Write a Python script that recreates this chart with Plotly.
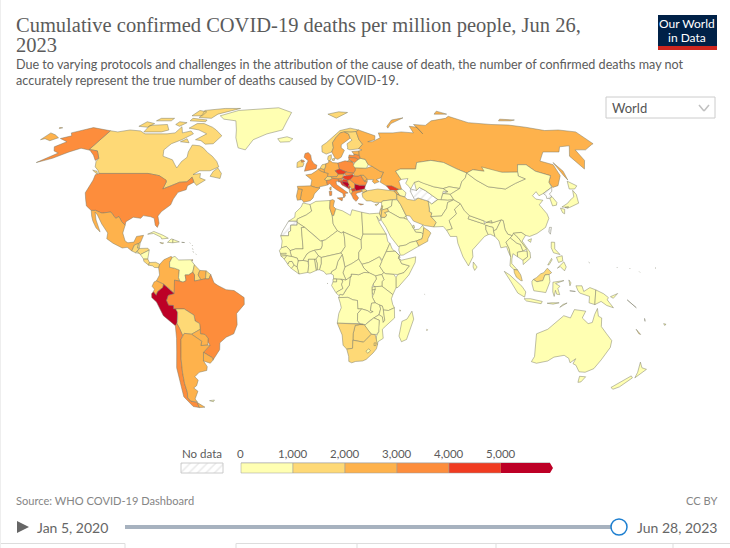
import numpy as np
import plotly.graph_objects as go

# country outlines as (lon, lat) rings, traced by eye, one entry per country
OUTLINES = {
    "CAN": [[(-141,69.6),(-135,69),(-128,70),(-120,69.5),(-115,68),(-108,68),(-100,68),(-95,68.5),(-94,71.8),(-90,68.5),(-85,69.5),(-82,68),(-87,65),(-92,63),(-94,60),(-92,57),(-85,55.3),(-82,53),(-80,51.5),(-79,54.5),(-77,56.5),(-78,59),(-78,62.4),(-73,62),(-70,61),(-66,58.8),(-62,57),(-58,54.5),(-55.7,52),(-60,50.2),(-66,50.2),(-69,48.5),(-65,49),(-64.5,47),(-61,46),(-65,43.6),(-67,45),(-69,47.3),(-71,45.2),(-75,45),(-79,43.4),(-83,42),(-82.5,45.5),(-88,48),(-95,49),(-110,49),(-123,49),(-125,50.5),(-128,52),(-130,54.5),(-130,56),(-135,59.5),(-141,60.2)],
            [(-80,73.5),(-72,71.5),(-68,70),(-62,67),(-65,63),(-70,62.8),(-74,64.5),(-78,65),(-73,68),(-80,70),(-88,71),(-85,73.5)],
            [(-117,69),(-105,69),(-101,70),(-106,73),(-118,72.5)],
            [(-88,77),(-78,76.5),(-76,79),(-65,82),(-62,83),(-75,83),(-90,81.5),(-88,79)],
            [(-125,72),(-118,71.5),(-116,73.5),(-123,74.5)],
            [(-92,75),(-80,74.5),(-80,75.5),(-92,76.5)],
            [(-59,47.7),(-53,46.7),(-53,49),(-56,51.5),(-58,50)],
            [(-87,64),(-81,63.5),(-84,65.5)],
            [(-128,50.5),(-123.5,48.5),(-125,50)],
            [(-117,75),(-106,75),(-106,76.5),(-116,76.5)],
            [(-95,78),(-87,78),(-87,80.5),(-94,81.5)],
            [(-100,73),(-96,72),(-93,74),(-99,74.5)]],
    "USA": [[(-123,49),(-110,49),(-95,49),(-88,48),(-83,46),(-82.5,45),(-83,42),(-79,43.4),(-75,45),(-71,45.2),(-69,47.3),(-67,45),(-70,43.5),(-70,41.7),(-74,40.5),(-75.5,37.5),(-76,35),(-80,32),(-81.3,30),(-80,26.8),(-80.5,25),(-81.8,26),(-83,29),(-85,29.7),(-89,30.2),(-90,29),(-94,29.5),(-97.3,27.5),(-97.3,26),(-99.5,27.5),(-101.5,29.8),(-103,29),(-106.5,31.8),(-111,31.3),(-114.8,32.5),(-117.1,32.5),(-120.5,34.5),(-122.5,37.5),(-124.3,40.3),(-124,46),(-124.7,48.4)],
            [(-141,69.6),(-141,60.2),(-135,59.5),(-130,56),(-131,55),(-135,57.5),(-140,59.8),(-147,60.8),(-152,59),(-158,56),(-165,54),(-158,58.5),(-162,59.5),(-165,61.5),(-161,64),(-168,65.6),(-163,67),(-166,68.5),(-156,71.3)]],
    "GRL": [[(-73,78),(-68,76),(-58,75),(-54,70),(-52,66),(-48,61),(-43,60),(-40,65),(-32,68),(-22,70),(-20,75),(-18,80),(-30,83.5),(-45,82.5),(-62,81.5)]],
    "MEX": [[(-117.1,32.5),(-114.8,32.5),(-111,31.3),(-106.5,31.8),(-103,29),(-101.5,29.8),(-99.5,27.5),(-97.3,26),(-97.8,22.5),(-96,19),(-94.5,18.2),(-91.5,18.5),(-90.5,21),(-87,21.5),(-88,18.5),(-89,17.9),(-91,17.2),(-92,14.6),(-94.5,16.2),(-97,15.9),(-102,18),(-105.5,20),(-105.5,22.5),(-109.5,26.5),(-113,30.5),(-114.7,31.7),(-113,28.3),(-110,24),(-109.5,23),(-112,24.8),(-114.5,27.8),(-115.8,30)]],
    "GTM": [[(-92,14.6),(-91,17.2),(-89,17.9),(-89.2,15.9),(-88.2,15.7),(-89.3,14.4),(-90,13.8)]],
    "BLZ": [[(-89,17.9),(-88.2,18.4),(-88.3,16),(-89.2,15.9)]],
    "SLV": [[(-90,13.8),(-89.3,14.4),(-87.8,13.5)]],
    "HND": [[(-89.3,14.4),(-88.2,15.7),(-84,15.8),(-83.2,15),(-87.5,13)]],
    "NIC": [[(-87.5,13),(-83.2,15),(-83.6,11),(-85.7,11)]],
    "CRI": [[(-85.7,11),(-83.6,11),(-82.6,9.5),(-83,8.3),(-85.5,10)]],
    "PAN": [[(-83,8.3),(-82.6,9.5),(-79.5,9.6),(-77.4,8.7),(-77.9,7.2),(-80,7.3),(-81,8)]],
    "CUB": [[(-85,22),(-82,23.2),(-77,21.5),(-74.2,20.2),(-77.5,19.9),(-78,20.7),(-82,22.3)]],
    "HTI": [[(-74.4,18.4),(-72.7,19.9),(-71.7,19.7),(-71.7,18.2)]],
    "DOM": [[(-71.7,19.7),(-68.4,18.6),(-71.7,18.2)]],
    "JAM": [[(-78.3,18.3),(-76.3,18.1),(-77,17.8)]],
    "PRI": [[(-67.2,18.4),(-65.7,18.3),(-66,18)]],
    "TTO": [[(-61.7,10.7),(-61,10.8),(-61.1,10.1)]],
    "LCA": [[(-61,14.3),(-60.8,14),(-61.1,14)],[(-61.4,15.6),(-61.2,15.3),(-61.5,15.3)],[(-61.8,17.2),(-61.6,17),(-61.9,17)],[(-63,18.2),(-62.8,18),(-63.1,18)],[(-59.6,13.3),(-59.4,13.1),(-59.7,13.1)]],
    "COL": [[(-77.4,8.7),(-75.5,10.7),(-72,12.2),(-71.3,11.8),(-72.5,9.5),(-72.4,7.4),(-70,7),(-67.5,6.2),(-67.8,2.8),(-67,1.2),(-69.8,1.7),(-69.6,-0.5),(-70,-4.2),(-72,-2.4),(-75.2,-0.1),(-78.8,1.4),(-77.3,4),(-77.9,7.2)]],
    "VEN": [[(-71.3,11.8),(-70,12.2),(-68,10.6),(-64,10.5),(-62,10.7),(-60,8.5),(-60.7,5.2),(-62.8,4),(-64.5,4),(-64,1.5),(-65.5,0.8),(-67,1.2),(-67.8,2.8),(-67.5,6.2),(-70,7),(-72.4,7.4),(-72.5,9.5)]],
    "GUY": [[(-60,8.5),(-57.2,6),(-58,4),(-56.5,1.9),(-59.8,1.3),(-59.8,4),(-60.7,5.2)]],
    "SUR": [[(-57.2,6),(-54,5.8),(-54.3,2.3),(-56.5,1.9),(-58,4)]],
    "GUF": [[(-54,5.8),(-51.7,4.2),(-52.6,2.2),(-54.3,2.3)]],
    "BRA": [[(-51.7,4.2),(-50,0.5),(-48,-0.7),(-44,-2.5),(-40,-2.9),(-37,-4.8),(-35,-6),(-35,-9),(-39,-13),(-39,-18),(-41,-22),(-45,-23.5),(-48.5,-26),(-49,-29),(-53.4,-33.7),(-53.2,-32.7),(-57.6,-30.2),(-53.7,-27),(-54.6,-25.6),(-54.3,-24),(-55.8,-22.3),(-58,-22),(-57.9,-20),(-58,-17.5),(-60.2,-16.3),(-60.5,-13.8),(-65.3,-11),(-69.5,-11),(-70.6,-11),(-70.6,-9.5),(-73,-9.4),(-74,-7.3),(-73,-5),(-70,-4.2),(-69.6,-0.5),(-69.8,1.7),(-67,1.2),(-65.5,0.8),(-64,1.5),(-64.5,4),(-62.8,4),(-60.7,5.2),(-59.8,4),(-59.8,1.3),(-56.5,1.9),(-54.3,2.3),(-52.6,2.2)]],
    "ECU": [[(-80,0.9),(-78.8,1.4),(-75.2,-0.1),(-75.6,-1.5),(-78.3,-3.4),(-79,-5),(-80.4,-3.4),(-79.8,-2.3),(-81,-1)]],
    "PER": [[(-75.2,-0.1),(-72,-2.4),(-70,-4.2),(-73,-5),(-74,-7.3),(-73,-9.4),(-70.6,-9.5),(-70.6,-11),(-69.5,-11),(-68.7,-12.5),(-69,-16.2),(-69.5,-17.5),(-70.4,-18.4),(-76,-14),(-79,-8),(-81.3,-6),(-81.3,-4.3),(-80.4,-3.4),(-79,-5),(-78.3,-3.4),(-75.6,-1.5)]],
    "BOL": [[(-69.5,-11),(-65.3,-11),(-60.5,-13.8),(-60.2,-16.3),(-58,-17.5),(-57.9,-20),(-62.6,-22.2),(-66.2,-21.8),(-67.2,-22.8),(-68.4,-19.5),(-69.5,-17.5),(-69,-16.2),(-68.7,-12.5)]],
    "PRY": [[(-57.9,-20),(-58,-22),(-55.8,-22.3),(-54.3,-24),(-54.6,-25.6),(-54.8,-27),(-58.5,-27.2),(-57.7,-25.3),(-62.6,-22.2)]],
    "CHL": [[(-70.4,-18.4),(-69.5,-17.5),(-68.4,-19.5),(-67.2,-22.8),(-68.3,-24.5),(-70,-33),(-71,-39),(-71.8,-44),(-72,-48),(-73,-50.5),(-72,-52),(-68.6,-52.6),(-68.6,-55),(-72,-54.5),(-75,-50),(-74,-43),(-73.5,-37),(-71.5,-30),(-70.5,-24)]],
    "ARG": [[(-66.2,-21.8),(-62.6,-22.2),(-57.7,-25.3),(-58.5,-27.2),(-54.8,-27),(-53.7,-27),(-57.6,-30.2),(-58.4,-34),(-57,-36.5),(-57.7,-38.2),(-62,-39),(-65,-41),(-63.7,-42.5),(-65.5,-45),(-67.5,-46),(-65.8,-47.5),(-69,-51),(-68.4,-52.4),(-72,-52),(-73,-50.5),(-72,-48),(-71.8,-44),(-71,-39),(-70,-33),(-68.3,-24.5),(-67.2,-22.8)],
            [(-68.6,-52.7),(-65.2,-54.8),(-68.6,-55)]],
    "URY": [[(-57.6,-30.2),(-53.2,-32.7),(-53.4,-33.7),(-55,-35),(-58.4,-34)]],
    "FLK": [[(-61,-51.8),(-58,-51.5),(-59,-52.3)]],
    "MAR": [[(-5.9,35.8),(-2.1,35.1),(-1.2,32.2),(-4,30.5),(-8.7,28.7),(-8.7,27.7),(-13.2,27.7),(-10,29.5),(-9.8,31.5),(-6.8,34)]],
    "ESH": [[(-13.2,27.7),(-8.7,27.7),(-8.7,26),(-12,26),(-12,23.4),(-13,23),(-13,21.3),(-17,21.3),(-16,23.5),(-14.5,26)]],
    "DZA": [[(-2.1,35.1),(1,36.5),(8.6,36.9),(8.3,33.5),(9.5,30.2),(9.9,26.5),(12,23.5),(5.8,19.5),(3.2,19),(1.2,20.7),(-4.8,25),(-8.7,27.2),(-8.7,28.7),(-4,30.5),(-1.2,32.2)]],
    "TUN": [[(8.6,36.9),(10,37.3),(11,36.8),(10.2,34.3),(11.5,33.2),(10.3,30.2),(9.5,30.2),(8.3,33.5)]],
    "LBY": [[(11.5,33.2),(15,32.3),(19,30.3),(20,32.8),(25,31.7),(25,22),(24,19.5),(15,23),(14,22.5),(12,23.5),(9.9,26.5),(9.5,30.2),(10.3,30.2)]],
    "EGY": [[(25,31.7),(29,31),(32.5,31.2),(34.2,31.3),(34.9,29.5),(34.2,27.8),(32.6,29.9),(33.8,27),(35.7,23.9),(36.9,22),(25,22)]],
    "MRT": [[(-17,21.3),(-13,21.3),(-13,23),(-12,23.4),(-12,26),(-8.7,26),(-8.7,27.2),(-4.8,25),(-6.5,24.9),(-5.5,15.5),(-9.3,15.5),(-12.2,14.7),(-12.2,15),(-14,16.6),(-16.5,16),(-16.2,19)]],
    "MLI": [[(-4.8,25),(1.2,20.7),(3.2,19),(4.2,19),(4.2,16.8),(3.5,15.4),(0.2,14.9),(-2,14.2),(-3.5,13.3),(-5.5,10.4),(-8,10.2),(-8.4,11.4),(-11.4,12.2),(-12.2,14.7),(-9.3,15.5),(-5.5,15.5),(-6.5,24.9)]],
    "NER": [[(4.2,19),(5.8,19.5),(12,23.5),(14,22.5),(15,23),(15.5,20.8),(15.8,16.5),(13.6,13.7),(9,12.8),(3.6,11.7),(2.2,12.5),(0.2,14.9),(3.5,15.4),(4.2,16.8)]],
    "TCD": [[(15,23),(24,19.5),(24,15.7),(22.6,14),(22.5,11),(19,9),(15.5,7.5),(14.5,12.2),(13.6,13.7),(15.8,16.5),(15.5,20.8)]],
    "SDN": [[(24,19.5),(25,22),(36.9,22),(37.5,18.7),(38.5,18),(36.5,14.3),(34.3,10.6),(32.9,12),(27.5,9.5),(24,8.7),(22.5,11),(22.6,14),(24,15.7)]],
    "SSD": [[(24,8.7),(27.5,9.5),(32.9,12),(34.1,10),(33,7.8),(35,5),(33.9,4.2),(30.8,3.6),(27.5,5),(25,7)]],
    "ERI": [[(36.5,14.3),(38.5,18),(39.5,15.5),(43,12.6),(41,14.5),(37.5,14.3)]],
    "ETH": [[(36.5,14.3),(37.5,14.3),(41,14.5),(43,12.6),(42.4,11.5),(43,11),(44,9),(47.9,8),(45,5),(42,4.2),(40,4.2),(36,4.5),(35,5),(33,7.8),(34.1,10),(34.3,10.6)]],
    "DJI": [[(43,12.6),(43.3,11.5),(42.4,11.2)]],
    "SOM": [[(43,11),(44,10.5),(51.2,12),(50.8,9.5),(47.5,4),(42,-1.5),(41,-1.7),(41,2.8),(42,4.2),(45,5),(47.9,8),(44,9)]],
    "KEN": [[(33.9,4.2),(35,5),(36,4.5),(40,4.2),(41,2.8),(41,-1.7),(39.5,-4.7),(37.7,-3.5),(34,-1),(34,1),(35,2)]],
    "UGA": [[(30.8,3.6),(33.9,4.2),(35,2),(34,1),(34,-1),(30,-1.2),(29.6,0),(31.2,2.2)]],
    "TZA": [[(34,-1),(37.7,-3.5),(39.5,-4.7),(38.8,-6.5),(39.5,-9),(40.4,-10.5),(37.5,-11.7),(34.9,-11.5),(34.3,-9.7),(31,-8.6),(29.3,-6),(29.6,-4.5),(30.6,-2.4),(30,-1.2)]],
    "RWA": [[(29,-1.4),(30.5,-1.1),(30.6,-2.4),(29,-2.7)]],
    "BDI": [[(29,-2.7),(30.5,-2.4),(30,-4.5),(29.3,-4.4)]],
    "COD": [[(12.3,-6),(13.1,-4.6),(14.5,-4.8),(16.2,-2.2),(17.7,-0.5),(18,2.5),(18.6,3.5),(18.6,4.4),(22.4,4.1),(25,5.1),(27.5,5),(30.8,3.6),(31.2,2.2),(29.6,0),(29,-1.4),(29,-2.7),(29.3,-4.4),(29.3,-6),(30.7,-8.3),(28.9,-8.5),(28.4,-11.7),(29.8,-12.2),(28.5,-12.7),(27,-11.8),(24,-11),(22,-11),(21.8,-7.3),(19.5,-7),(17,-5.9)]],
    "AGO": [[(12.3,-6),(17,-5.9),(19.5,-7),(21.8,-7.3),(22,-11),(24,-11),(22,-13),(22,-16.2),(23.3,-17.5),(18.5,-17.4),(11.8,-17.3),(12.5,-13),(13.7,-10.5),(13.2,-8.5)]],
    "ZMB": [[(22,-13),(24,-11),(27,-11.8),(28.5,-12.7),(29.8,-12.2),(28.4,-11.7),(28.9,-8.5),(30.7,-8.3),(33,-9.3),(33.5,-11),(32.8,-13.5),(30.2,-15),(28.5,-16),(26,-18),(23.3,-17.5),(22,-16.2)]],
    "MWI": [[(33,-9.4),(34.3,-9.7),(34.9,-11.5),(35.8,-16),(35,-17),(34.5,-14.5),(32.8,-13.6),(33.5,-11)]],
    "MOZ": [[(34.9,-11.5),(37.5,-11.7),(40.4,-10.5),(40.7,-15),(36.5,-18.5),(34.8,-20),(35.5,-24),(32.9,-25.5),(32.8,-26.8),(31.9,-26),(32,-23),(33,-21),(32.8,-19),(33,-16),(30.2,-15),(32.8,-13.6),(34.5,-14.5),(35,-17),(35.8,-16)]],
    "ZWE": [[(26,-18),(28.5,-16),(30.2,-15),(33,-16),(32.8,-19),(33,-21),(32,-22.3),(29.5,-22.2),(27.5,-20.5),(25.5,-18)]],
    "BWA": [[(20.9,-18.3),(23.3,-17.9),(25.5,-18),(27.5,-20.5),(29.3,-22.2),(26.8,-24.5),(25.5,-25.7),(23,-25.3),(20,-24.8),(20,-22)]],
    "NAM": [[(11.8,-17.3),(18.5,-17.4),(23.3,-17.5),(25,-17.8),(23.3,-17.9),(20.9,-18.3),(20,-22),(20,-28.4),(17,-28.8),(15,-27),(14.4,-22.5)]],
    "ZAF": [[(17,-28.8),(20,-28.4),(20,-24.8),(23,-25.3),(25.5,-25.7),(26.8,-24.5),(29.3,-22.2),(31.3,-22.4),(32,-25),(32.8,-26.8),(32.4,-28.6),(30.8,-30.5),(27.5,-33.3),(25.7,-34),(22,-34.2),(20,-34.8),(18.4,-34.2),(18.2,-32)]],
    "LSO": [[(27,-29.6),(28.5,-28.6),(29.4,-29.5),(28,-30.6)]],
    "SWZ": [[(31,-26),(32,-26),(32,-27.2),(31,-27.2)]],
    "GAB": [[(8.8,-0.7),(9.5,1),(11.3,1),(11.3,2.3),(13.3,2.2),(14.5,1.4),(13.8,-0.2),(14.5,-2),(11.5,-3.5),(11,-3.9)]],
    "COG": [[(11,-3.9),(11.5,-3.5),(14.5,-2),(13.8,-0.2),(14.5,1.4),(13.3,2.2),(16,1.8),(18.6,3.5),(18,2.5),(17.7,-0.5),(16.2,-2.2),(14.5,-4.8),(13.1,-4.6),(12.3,-5)]],
    "CAF": [[(14.5,5),(15.5,7.5),(19,9),(22.5,11),(24,8.7),(25,7),(27.5,5),(25,5.1),(22.4,4.1),(18.6,4.4),(18.6,3.5),(16,1.8),(15,3.8)]],
    "CMR": [[(8.5,4.6),(9.7,3.9),(9.8,2.3),(11.3,2.3),(13.3,2.2),(16,1.8),(15,3.8),(14.5,5),(15.5,7.5),(14.5,12.2),(14.2,13),(12,10),(11,6.7),(8.8,5.5)]],
    "GNQ": [[(9.5,2.2),(11.3,2.2),(11.3,1),(9.5,1)]],
    "NGA": [[(2.7,6.3),(5,5.5),(6,4.3),(8.5,4.6),(8.8,5.5),(11,6.7),(12,10),(14.2,13),(13.6,13.7),(9,12.8),(3.6,11.7),(3.6,9)]],
    "BEN": [[(1.6,6.2),(2.7,6.3),(3.6,9),(3.6,11.7),(2.2,12.5),(0.9,11),(1.6,9)]],
    "TGO": [[(0.2,11),(0.9,11),(1.6,9),(1.6,6.2),(1.1,6),(0.6,8)]],
    "GHA": [[(-3.2,5.1),(-2,4.8),(1.1,6),(0.6,8),(0.2,11),(-2.8,11),(-2.7,8)]],
    "BFA": [[(-5.5,10.4),(-3.5,13.3),(-2,14.2),(0.2,14.9),(2.2,12.5),(0.9,11),(-2.8,11),(-3,9.9)]],
    "CIV": [[(-8.5,7.6),(-7.5,4.4),(-3.2,5.1),(-2.7,8),(-3,9.9),(-5.5,10.4),(-8,10.2)]],
    "LBR": [[(-11.4,6.9),(-7.5,4.4),(-8.5,7.6),(-10,8.4)]],
    "SLE": [[(-13.2,8.5),(-11.4,6.9),(-10,8.4),(-11,10),(-12.5,9.9)]],
    "GIN": [[(-15,11),(-13.2,8.8),(-12.5,9.9),(-11,10),(-10,8.4),(-8.5,7.6),(-8,10.2),(-8.4,11.4),(-11.4,12.2),(-13.7,12.6)]],
    "GNB": [[(-16.7,12.4),(-13.7,12.6),(-15,11)]],
    "SEN": [[(-17.5,14.7),(-16.5,16),(-14,16.6),(-12.2,15),(-11.4,12.2),(-13.7,12.6),(-16.7,12.4),(-16.8,13.2)]],
    "GMB": [[(-16.8,13.5),(-14,13.6),(-14,13.2),(-16.8,13.1)]],
    "MDG": [[(49.3,-12),(50.4,-15.5),(47.5,-24.5),(45,-25.5),(43.5,-23),(44.5,-16.5),(47,-15.5)]],
    "COM": [[(43.2,-11.4),(43.6,-11.9),(43.2,-12)]],
    "MUS": [[(57.4,-20),(57.8,-20.2),(57.5,-20.6)]],
    "SYC": [[(55.4,-4.6),(55.6,-4.7),(55.4,-4.9)]],
    "STP": [[(6.5,0.4),(6.8,0.2),(6.5,0)]],
    "ISL": [[(-24,65.5),(-18,66.5),(-14,65.5),(-16,64),(-22,63.8)]],
    "IRL": [[(-10,54),(-7.5,55.3),(-6,53.5),(-6.5,52.2),(-10,51.7)]],
    "GBR": [[(-5.5,50),(1.3,51.2),(1.7,52.8),(0,53.5),(-1.5,55.2),(-2,57.5),(-3.5,58.7),(-5.5,58.3),(-6,56.5),(-3.5,54.8),(-4.5,53.3),(-5,51.8)],
            [(-7.5,55.2),(-6,55),(-5.6,54.4),(-7.5,54.2)]],
    "FRA": [[(-1.8,43.4),(-1.2,46),(-4.7,48.3),(-1.5,48.7),(1.5,50.2),(2.5,51),(4.2,50),(6,49.5),(8.2,49),(7.6,47.6),(6,46.3),(7,45.8),(7.5,43.8),(5,43.3),(3,43),(3.2,42.4),(0.7,42.7)],
            [(8.6,42.5),(9.5,43),(9.3,41.5),(8.8,41.6)]],
    "ESP": [[(-9.2,43.2),(-1.8,43.4),(0.7,42.7),(3.2,42.4),(0.2,39.8),(-0.5,38),(-2,36.8),(-5.5,36.1),(-6.4,37.2),(-7.4,37.2),(-7,39.5),(-6.5,41.8),(-8.8,42)]],
    "PRT": [[(-8.8,42),(-6.5,41.8),(-7,39.5),(-7.4,37.2),(-8.9,37),(-9.5,38.8)]],
    "BEL": [[(2.5,51),(4.3,51.4),(6,50.7),(6,49.5),(4.2,50)]],
    "NLD": [[(3.5,51.4),(4.8,53),(7,53.4),(6.8,52),(6,50.8),(4.3,51.4)]],
    "DEU": [[(6,50.7),(6.8,52),(7,53.4),(8.7,54),(8.8,54.9),(10,54.7),(11,54),(14.2,53.8),(14.8,51),(12.2,50.2),(13.8,48.7),(13,47.5),(7.6,47.6),(8.2,49),(6,49.5)]],
    "DNK": [[(8.2,55.5),(8.6,57),(10.6,57.7),(10.5,56),(9.6,54.9),(8.7,54.9)],
            [(11,55.7),(12.5,56),(12.2,55),(11,55)]],
    "CHE": [[(6,46.3),(7.6,47.6),(9.6,47.5),(10.4,46.8),(9,46),(7,45.8)]],
    "AUT": [[(9.6,47.5),(13,47.5),(13.8,48.7),(17,48.8),(16.2,46.9),(13.7,46.5),(10.4,46.8)]],
    "ITA": [[(7,45.8),(9,46),(10.4,46.8),(13.7,46.5),(13.8,45.6),(12.3,45.3),(12.5,44),(16,41.8),(18.5,40.2),(16.8,40),(17,39),(16,38),(15.7,40),(12.3,41.7),(10.2,43),(8.8,44.4),(7.5,43.8)],
            [(12.5,38),(15.5,38.2),(15,36.7)],
            [(8.3,41),(9.7,41),(9.6,39.2),(8.5,39)]],
    "POL": [[(14.2,53.8),(18.5,54.8),(23,54.3),(24,52),(24,50.5),(22.7,49.1),(19,49.5),(14.8,51)]],
    "CZE": [[(12.2,50.2),(14.8,51),(18.8,49.6),(17,48.8),(13.8,48.7)]],
    "SVK": [[(17,48.8),(18.8,49.6),(22.5,49.1),(22,48.4),(18.8,47.9)]],
    "HUN": [[(16.2,46.9),(17,48),(18.8,47.9),(22,48.4),(22.7,47.9),(20.3,46.1),(18.8,45.9)]],
    "SVN": [[(13.7,46.5),(16.2,46.9),(15.5,45.5),(13.8,45.5)]],
    "HRV": [[(13.6,45.1),(13.8,45.5),(15.5,45.5),(16.6,46.5),(18.8,45.9),(19,45),(16,45.2),(15.8,44.7),(18.5,42.5),(15.5,43.8),(14.5,45.2)]],
    "BIH": [[(16,45.2),(19,45),(19.5,44),(18.5,42.5),(15.8,44.7)]],
    "SRB": [[(18.8,45.9),(20.3,46.1),(22.7,44.5),(22.4,42.3),(20.6,41.9),(20,43),(19.2,43.4),(19.5,44),(19,45)]],
    "MNE": [[(18.5,42.5),(19.2,43.4),(20,43),(19.3,41.9)]],
    "ALB": [[(19.3,41.9),(20.6,41.9),(21,40.8),(20.2,39.6),(19.4,40.5)]],
    "MKD": [[(20.6,41.9),(22.4,42.3),(23,41.3),(21,40.8)]],
    "GRC": [[(21,40.8),(23,41.3),(26.2,41.7),(26,40.8),(23.5,40.2),(22.6,39.8),(24,38),(22.5,36.5),(21.2,37.5),(20.2,39.6)],
            [(23.5,35.5),(26.3,35.2),(24.8,34.9)]],
    "BGR": [[(22.4,42.3),(22.7,44.2),(25,43.7),(28.5,43.7),(27.7,42),(26.2,41.7),(23,41.3)]],
    "ROU": [[(20.3,46.1),(22.7,47.9),(24.9,47.8),(26.6,48.2),(28.2,45.5),(29.7,45.2),(28.6,43.7),(25,43.7),(22.7,44.3)]],
    "MDA": [[(26.6,48.2),(28.3,48.2),(30,46.4),(28.2,45.5)]],
    "UKR": [[(22.7,49.1),(24,50.5),(24,51.6),(30.5,51.4),(34,52.3),(38.2,49.9),(40,49.6),(38,47.1),(35,46.2),(36.5,45.3),(33.6,44.4),(32.6,45.5),(33.5,46.2),(30,46.2),(29.7,45.2),(28.2,45.5),(30,46.4),(28.3,48.2),(26.6,48.2),(24.9,47.8),(22.7,47.9)]],
    "BLR": [[(24,51.6),(30.5,51.4),(32,53),(30.8,55.5),(28,56),(26.6,55.5),(24,53.9),(23,52.5)]],
    "LTU": [[(21,55.3),(21,56.4),(25,56.3),(26.6,55.5),(24,53.9),(22.8,54.3)]],
    "LVA": [[(21,56.4),(21.5,57.6),(24.3,57.3),(24.5,58),(27.7,57.5),(28,56),(26.6,55.5),(25,56.3)]],
    "EST": [[(23.5,59.2),(28,59.5),(27.7,57.5),(24.5,58)]],
    "NOR": [[(5,59),(7.5,58),(11,59),(12.3,61),(12,63.5),(14.5,66),(18,68.5),(21,69),(25.5,68.9),(29,69.2),(31,70),(25.5,71),(18,69.7),(12,66),(8,63.5),(5,62)],
            [(11,79),(20,80.5),(27,80),(17,76.6)]],
    "SWE": [[(11,59),(12.8,56),(14.3,55.5),(16.5,56.5),(19,59.8),(17.2,61),(17.5,62.5),(21.3,64.5),(24,65.8),(23.5,68),(20.5,69),(18,68.5),(14.5,66),(12,63.5),(12.3,61)]],
    "FIN": [[(21,60.5),(22.5,60),(28,60.5),(31.3,62.8),(29.6,65),(29,69.2),(25.5,68.9),(21,69),(23.5,68),(24,65.8),(25,64.8),(21.3,63),(21.3,61)]],
    "RUS": [[(28,59.5),(30,60),(28,60.5),(31.3,62.8),(29.6,65),(29,69.2),(31,70),(41,67),(40,65),(35,64),(38,64),(44,66),(44,68.5),(54,68.5),(60,69),(68,68.5),(68,72),(73,71.5),(74,68),(72,73),(80,72.5),(87,75),(100,76.5),(104,77.7),(113,74),(128,73),(140,72.7),(150,71.5),(160,69.7),(170,70),(180,69),(180,63),(178,62.5),(170,60),(163.5,60),(163,58),(162,55),(157,51),(155.7,57),(163,62),(156,61.5),(152,59),(142,59),(135,54.7),(141,53),(140,48),(135,43.5),(131.5,42.7),(131,45),(134.5,48),(127.5,50),(125,53),(120,53),(117,49.6),(108,49.5),(98,50),(92,50.7),(87.5,49.2),(83,51),(77,54),(70,55),(61,54),(59,51),(50,51),(47,50),(49,46.3),(47.5,45.5),(48,42),(46.5,41.8),(43,43.3),(40,43.4),(37,45),(38,47.1),(40,49.6),(38.2,49.9),(34,52.3),(32,53),(30.8,55.5),(28,56),(27.7,57.5)],
            [(19.8,54.5),(22.8,54.3),(21,55.3)],
            [(142,54),(143.5,50),(142.5,46),(142,48)],
            [(52,71),(56,73.5),(68,76.8),(58,75.5),(52,72)],
            [(95,79),(105,79),(100,81)],
            [(137,75),(146,75),(150,75.5),(140,76)],
            [(-180,68.5),(-175,67.5),(-170,66),(-173,64.5),(-178,65.5),(-180,65)],
            [(-180,71.3),(-177.5,71.2),(-179,70.8)]],
    "GEO": [[(40,43.4),(43,43.3),(46.5,41.8),(45,41.3),(42.7,41.5),(41.5,41.5)]],
    "ARM": [[(43.5,41.1),(45,41.3),(46.5,39),(44.8,39.7)]],
    "AZE": [[(45,41.3),(46.5,41.8),(48.5,41.8),(50,40.3),(49,38.5),(46.5,39)]],
    "TUR": [[(26,40),(29,41.2),(35,42),(41.5,41.5),(43.5,41.1),(44.8,39.7),(44.5,37.5),(42,37.2),(36.7,36.7),(36,36),(32,36.1),(30.5,36.7),(28,36.7),(26.3,38.3)],
            [(26.2,41.7),(28,42),(29,41.2),(26.5,40.4)]],
    "CYP": [[(32.3,35),(34.5,35.6),(33,34.6)]],
    "SYR": [[(36,36),(36.7,36.7),(42,37.2),(41,34.4),(38.8,33.4),(36.4,32.5),(36,33.5),(35.8,34.6)]],
    "LBN": [[(35.2,33.1),(35.8,34.6),(36.5,34.5),(35.7,33.2)]],
    "ISR": [[(34.2,31.3),(35,33.1),(35.7,33.2),(35.5,31.5),(34.9,29.5)]],
    "JOR": [[(34.9,29.5),(35.5,31.5),(35.7,32.7),(38.8,33.4),(39.2,32),(37,31.5),(38,30.5),(37,29.4)]],
    "IRQ": [[(38.8,33.4),(41,34.4),(42,37.2),(44.5,37.2),(46,35),(48,30.3),(48,30),(46.5,29.1),(44.7,29.2),(39.2,32)]],
    "KWT": [[(46.5,29.1),(48,30),(48.4,28.5)]],
    "SAU": [[(34.9,29.3),(37,29.4),(38,30.5),(37,31.5),(39.2,32),(44.7,29.2),(46.5,29.1),(48.4,28.5),(50,26.5),(50.8,24.7),(52,23),(55,22.7),(55.7,22),(55,20),(52,19),(48.7,18.3),(46.5,17.2),(43.2,16.7),(42.7,16.5),(39,21),(37,25),(35,28)]],
    "QAT": [[(50.8,24.7),(51,26),(51.6,25.8),(51.6,24.7)]],
    "ARE": [[(52,23),(51.6,24),(54,24.2),(56,26),(56.4,24.9),(55.7,22),(55,22.7)]],
    "OMN": [[(56.4,24.9),(58.7,23.6),(59.8,22.5),(58,20),(57.8,18.9),(55,17.5),(53,16.7),(52,19),(55,20),(55.7,22)]],
    "YEM": [[(43.2,16.7),(46.5,17.2),(48.7,18.3),(52,19),(53,16.7),(45,12.8),(43.5,12.7),(42.8,15)]],
    "IRN": [[(44.5,37.5),(44.8,39.7),(46.5,39),(48.9,38.4),(50,37.4),(54,36.9),(56,38),(61,36.6),(61,34.5),(60.5,32),(61.7,31.4),(60.9,29.8),(63.2,27.2),(61.6,25.2),(57,25.8),(55,26.5),(51.5,27.8),(50,30),(48,30.3),(46,35),(44.5,37.2)]],
    "TKM": [[(53,42),(52.5,41),(53.9,37.3),(56,38),(61,36.6),(62.5,35.3),(66.4,37.3),(64,39),(61,41.2),(58,42.7),(56,41.3)]],
    "UZB": [[(56,45),(56,41.3),(58,42.7),(61,41.2),(64,39),(66.4,37.3),(68,37),(70.5,41),(73,40.8),(71,42.2),(66,43),(61,44.5),(58.5,45.5)]],
    "KAZ": [[(47,50),(50,51),(59,51),(61,54),(70,55),(77,54),(83,51),(87.5,49.2),(85.5,47),(82.5,45.2),(80,42.2),(74.5,43),(71,42.2),(66,43),(61,44.5),(58.5,45.5),(56,45),(53,42),(52.5,43),(51,44.5),(53,46.7),(49,46.3)]],
    "KGZ": [[(71,42.2),(74.5,43),(80,42.2),(73.8,39.6),(70,40),(73,40.8)]],
    "TJK": [[(68,37.2),(70,40),(73.8,39.6),(74.9,37.2),(71.5,37)]],
    "AFG": [[(60.9,33),(61,36.6),(62.5,35.3),(66.4,37.3),(71.5,37),(74.9,37.2),(71.2,36),(70,33.5),(66.4,30),(61.7,29.8),(60.9,29.8),(61.7,31.4),(60.5,32)]],
    "PAK": [[(60.9,29.8),(61.7,29.8),(66.4,30),(70,33.5),(71.2,36),(74.9,37.2),(77.8,35.5),(74,33),(74.5,31),(70,28),(71,24.4),(68,23.7),(66.5,25.4),(61.6,25.2),(63.2,27.2)]],
    "IND": [[(68,23.7),(71,24.4),(70,28),(74.5,31),(74,33),(77.8,35.5),(79,32.5),(81,30.2),(80,28.8),(88,26.4),(89,27.3),(92,27),(97,28.3),(95,26),(93.5,24),(92,23.5),(92,25),(89.8,25.5),(88.5,26),(88.2,24),(89,21.8),(87,21),(82,17),(80,15),(80,12),(77.5,8),(75,12),(73,18),(72.8,21),(69.5,21)]],
    "NPL": [[(80,28.8),(81,30.2),(88,27.9),(88,26.4)]],
    "BTN": [[(89,27.3),(92,28),(92,27)]],
    "BGD": [[(88.2,24),(88.5,26),(89.8,25.5),(92,25),(92,23.5),(92.3,21),(90,22),(89,21.8)]],
    "LKA": [[(80,9.7),(81.8,7.5),(80.5,6),(79.8,7.5)]],
    "CHN": [[(74.9,37.2),(73.8,39.6),(80,42.2),(82.5,45.2),(85.5,47),(87.5,49.2),(91,46),(96,43),(105,42),(112,44.5),(119,46.5),(116,47.8),(117,49.6),(120,53),(125,53),(127.5,50),(134.5,48),(131,45),(131,42.8),(128,41.5),(124.4,40),(121.5,39),(121,40.8),(118,39),(119,37.5),(122.5,37),(119.5,35),(121.8,31),(122,29),(119,25),(114,22.3),(110,21),(108,21.5),(106,22.8),(102,22.4),(101.2,21.3),(99,22),(98,24),(98,28),(97,28.3),(92,27),(92,28),(89,27.3),(88,27.9),(81,30.2),(79,32.5),(77.8,35.5)],
            [(108.7,19.3),(110.7,20),(110,18.4)]],
    "TWN": [[(121,25),(122,25),(120.8,22),(120.2,23)]],
    "MNG": [[(87.5,49.2),(92,50.7),(98,50),(98,52),(108,49.5),(117,49.6),(116,47.8),(119,46.5),(112,44.5),(105,42),(96,43),(91,46)]],
    "PRK": [[(124.4,40),(128,41.5),(131,42.8),(129.7,41),(127.5,39.7),(128.3,38.6),(126.7,37.8),(125,37.8),(125.4,39)]],
    "KOR": [[(126.7,37.8),(128.3,38.6),(129.4,36),(128.5,34.8),(126.3,34.5)]],
    "JPN": [[(131,34),(135,35.7),(137,37),(140,38.5),(141.4,41.4),(142,39.5),(140.8,35.7),(137,34.6),(135,33.8)],
            [(130,33.5),(132,33),(131,31),(130.2,31.5)],
            [(132.5,33.8),(134.5,34.2),(134,33.4)],
            [(140,42),(141.7,45.5),(145.3,43.4),(143,42)]],
    "MMR": [[(92.3,21),(92,23.5),(93.5,24),(95,26),(97,28.3),(98,28),(98,24),(99,22),(101.2,21.3),(100,20.4),(97.5,18.5),(98.7,15.5),(99,12),(98,14.5),(97.5,16.5),(94.5,16),(94,19)]],
    "THA": [[(97.5,18.5),(100,20.4),(103,18),(104.7,17.5),(105.5,14.5),(102.6,14),(102.5,12),(101,12.7),(100.3,13.4),(99.5,11),(99.3,9),(102,6.2),(100.2,6.4),(98.3,8),(99,12),(98.7,15.5)]],
    "LAO": [[(100,20.4),(101.2,21.3),(102,22.4),(104,20.5),(107.5,15.5),(105.5,14.5),(104.7,17.5),(103,18)]],
    "VNM": [[(102,22.4),(106,22.8),(108,21.5),(105.8,19),(109,14),(109,11.5),(105,8.6),(105,10.5),(107.5,12),(107.5,15.5),(104,20.5)]],
    "KHM": [[(102.5,12),(102.6,14),(105.5,14.5),(107.5,14.5),(107.5,12),(105,10.5)]],
    "MYS": [[(100.2,6.4),(102,6.2),(103.5,4),(104.2,1.4),(103.4,1.5),(101.3,3),(100.3,5)],
            [(109.7,2),(111.3,2.8),(113.5,4.5),(115,5),(117,7),(119,5),(117.7,4.2),(115.6,4),(114.5,1.5),(111.5,1)]],
    "IDN": [[(95.3,5.6),(98,4),(104,-1),(106,-3.5),(105.5,-5.8),(102,-4),(98.5,1)],
            [(105.3,-6.5),(108.5,-6.5),(114.5,-7.7),(114,-8.7),(106.5,-7.5)],
            [(109,1.2),(109.7,2),(111.5,1),(114.5,1.5),(115.6,4),(117.7,4.2),(118,1),(116,-3.8),(114,-3.5),(110,-3),(109,0)],
            [(119.5,0.8),(125,1.5),(120.8,0.2),(123,-1),(122,-2),(123,-4.7),(121.5,-4.5),(120.8,-2.8),(120.3,-5.5),(119.5,-3.5)],
            [(131,-0.8),(134,-0.8),(135,-3.3),(138,-1.6),(141,-2.6),(141,-9.1),(138,-8.3),(138,-5.5),(133,-4),(132,-2.8)],
            [(123.5,-10.3),(125,-9),(127,-8.4),(125,-9.5)],
            [(117,-8.5),(119,-8.3),(123,-8.3),(120,-8.9)],
            [(128,-3),(130.8,-3.3),(129,-3.4)],
            [(127.5,1.8),(128.5,0.5),(128,-0.8),(127.6,0.5)]],
    "PNG": [[(141,-2.6),(145,-4.3),(147.5,-6),(147,-7),(150.5,-10.5),(147,-9.5),(144,-7.7),(141,-9.1)],
            [(148.5,-5.6),(152,-4.2),(150,-6.3)]],
    "PHL": [[(120.5,18.5),(122.2,18.4),(121.7,15.5),(124,13),(120.8,13.8),(120,16)],
            [(122,7),(125.5,9.8),(126.5,7.5),(125.5,5.8),(123.5,7.7)],
            [(122,11.8),(125,12.5),(125,10.2),(122.8,9.5)],
            [(117.3,8.4),(119.5,11.3),(119.7,10.7),(118,8.5)]],
    "AUS": [[(113.7,-22),(114.2,-26),(115.7,-32),(115,-34.3),(118,-35),(123.5,-34),(126,-32.3),(131,-31.5),(134,-32.8),(135.7,-34.8),(137.8,-33),(137.5,-35.2),(139.5,-35.9),(143,-38.8),(146.4,-39),(150,-37.4),(151.5,-33.5),(153.5,-28),(153,-25),(149.5,-22),(146,-18.8),(145.3,-15),(143.5,-14.2),(142.5,-10.8),(141.5,-13.5),(141,-17),(139,-17.5),(135.5,-15),(136.8,-12),(131,-11.3),(129.5,-15),(126,-14),(122.2,-17.5),(119,-20)],
            [(144.7,-40.8),(148.2,-41),(147.5,-43.3),(146,-43.5)]],
    "NZL": [[(172.8,-34.5),(175.5,-37),(178.5,-37.7),(175.5,-41.5),(174.8,-39)],
            [(172.7,-40.6),(174.2,-41.5),(171,-45.5),(168.5,-46.6),(166.5,-45.8),(171,-42)]],
    "NCL": [[(164,-20),(167,-22.3),(166,-22)]],
    "VUT": [[(167,-15.2),(167.6,-16.5),(167,-16)]],
    "SLB": [[(157,-7),(162,-10.5),(160,-9.5)]],
    "FJI": [[(177.3,-17.5),(178.6,-17.8),(178,-18.3)]],
    "FSM": [[(138,9.6),(138.3,9.4),(138,9.3)],[(151.8,7.5),(152,7.3),(151.7,7.3)],[(158.2,7),(158.4,6.8),(158.1,6.8)],[(163,5.4),(163.2,5.2),(162.9,5.2)],[(171,7.2),(171.3,7),(171,6.9)]],
}

# cumulative confirmed deaths per million, estimated from the colour bins; None = "No data"
DEATHS_AMERICAS = dict(CAN=1350, USA=3330, GRL=370, MEX=2620, GTM=1120, BLZ=1700, SLV=650, HND=1080, NIC=35, CRI=1800,
                       PAN=1930, CUB=750, HTI=75, DOM=400, JAM=1200, PRI=1800, TTO=2800, LCA=700, COL=2750, VEN=200,
                       GUY=1600, SUR=2300, GUF=1400, BRA=3260, ECU=2000, PER=6500, BOL=1900, PRY=2700, CHL=3200,
                       ARG=2850, URY=2200, FLK=0)
DEATHS_AFRICA = dict(MAR=440, ESH=None, DZA=150, TUN=2400, LBY=900, EGY=230, MRT=220, MLI=40, NER=10, TCD=10, SDN=110,
                     SSD=10, ERI=30, ETH=60, DJI=180, SOM=70, KEN=100, UGA=70, TZA=15, RWA=110, BDI=1, COD=15, AGO=50,
                     ZMB=200, MWI=130, MOZ=70, ZWE=370, BWA=1100, NAM=1600, ZAF=1700, LSO=300, SWZ=1200, GAB=130,
                     COG=70, CAF=20, CMR=70, GNQ=130, NGA=15, BEN=13, TGO=35, GHA=45, BFA=18, CIV=30, LBR=55, SLE=15,
                     GIN=33, GNB=85, SEN=110, GMB=150, MDG=50, COM=180, MUS=1000, SYC=1600, STP=350)
DEATHS_EUROPE = dict(ISL=500, IRL=1800, GBR=3350, FRA=2600, ESP=2500, PRT=2600, BEL=2900, NLD=1300, DEU=2100, DNK=1450,
                     CHE=1600, AUT=2500, ITA=3200, POL=3150, CZE=4000, SVK=3700, HUN=4900, SVN=3300, HRV=4600, BIH=5000,
                     SRB=2600, MNE=4300, ALB=1250, MKD=4500, GRC=3500, BGR=5600, ROU=3500, MDA=2800, UKR=2700, BLR=740,
                     LTU=3500, LVA=3700, EST=2100, NOR=1000, SWE=2300, FIN=1900, RUS=2740)
DEATHS_ASIA = dict(GEO=4500, ARM=2900, AZE=980, TUR=1200, CYP=1500, SYR=180, LBN=1600, ISR=1300, JOR=1400, IRQ=600,
                   KWT=580, SAU=270, QAT=250, ARE=240, OMN=1020, YEM=65, IRN=1650, TKM=None, UZB=50, KAZ=720, KGZ=420,
                   TJK=13, AFG=190, PAK=130, IND=375, NPL=400, BTN=27, BGD=170, LKA=770, CHN=85, TWN=None, MNG=630,
                   PRK=None, KOR=670, JPN=600, MMR=360, THA=480, LAO=90, VNM=440, KHM=180, MYS=1100, IDN=580, PNG=75,
                   PHL=590)
DEATHS_OCEANIA = dict(AUS=850, NZL=600, NCL=1250, VUT=45, SLB=23, FJI=980, FSM=500)

BIN_EDGES = [1000, 2000, 3000, 4000, 5000]
BIN_COLORS = ["#ffffb2", "#fed976", "#feb24c", "#fd8d3c", "#f03b20", "#bd0026"]
LEGEND_TICKS = ["0", "1,000", "2,000", "3,000", "4,000", "5,000"]

# Robinson projection table, every 5 degrees of latitude
ROB_LAT = np.arange(0, 95, 5)
ROB_PLEN = [1, .9986, .9954, .99, .9822, .973, .96, .9427, .9216, .8962, .8679, .835, .7986, .7597, .7186, .6732, .6213, .5722, .5322]
ROB_PDFE = [0, .062, .124, .186, .248, .31, .372, .434, .4958, .5571, .6176, .6769, .7346, .7903, .8435, .8936, .9394, .9761, 1]

W, H = 730, 548
X_ZERO, Y_ZERO, SCALE = 314, 284, 2.0


def robinson(lon, lat):
    a = abs(lat)
    x = np.interp(a, ROB_LAT, ROB_PLEN) * lon
    y = np.interp(a, ROB_LAT, ROB_PDFE) * 91.3 * (1 if lat >= 0 else -1)
    return x, y


def px(x):
    return x / W


def py(y):
    return 1 - y / H


def rect(x0, y0, x1, y1, **kw):
    return dict(type="rect", xref="paper", yref="paper", x0=px(x0), x1=px(x1), y0=py(y0), y1=py(y1), **kw)


def seg(x0, y0, x1, y1, color, width=1):
    return dict(type="line", xref="paper", yref="paper", x0=px(x0), x1=px(x1), y0=py(y0), y1=py(y1),
                line=dict(color=color, width=width))


def label(text, x, y, size=12, color="#5b5b5b", anchor="left", font="Lato"):
    return dict(text=text, x=px(x), y=py(y), xref="paper", yref="paper", showarrow=False, xanchor=anchor,
                yanchor="middle", font=dict(size=size, color=color, family=font), borderpad=0, borderwidth=0)


deaths = {**DEATHS_AMERICAS, **DEATHS_AFRICA, **DEATHS_EUROPE, **DEATHS_ASIA, **DEATHS_OCEANIA}

fig = go.Figure()
HATCH = dict(shape="/", fgcolor="#d4d4d4", bgcolor="#ffffff", size=6, solidity=0.25)

for iso, rings in OUTLINES.items():
    value = deaths[iso]
    xs, ys = [], []
    for ring in rings:
        pts = [robinson(lon, lat) for lon, lat in ring]
        pts.append(pts[0])
        xs += [p[0] for p in pts] + [None]
        ys += [p[1] for p in pts] + [None]
    style = dict(fillpattern=HATCH) if value is None else dict(fillcolor=BIN_COLORS[int(np.digitize(value, BIN_EDGES))])
    fig.add_trace(go.Scatter(x=xs, y=ys, mode="lines", fill="toself", name=iso, showlegend=False,
                             line=dict(color="rgba(120,120,100,0.8)", width=0.6), hoverinfo="name", **style))

shapes = []
annotations = []

# header
annotations += [
    label("Cumulative confirmed COVID-19 deaths per million people, Jun 26,", 16, 25, 20.5, "#5b5b5b", font="Liberation Serif"),
    label("2023", 16, 45, 20.5, "#5b5b5b", font="Liberation Serif"),
    label("Due to varying protocols and challenges in the attribution of the cause of death, the number of confirmed deaths may not", 16, 65, 12.6),
    label("accurately represent the true number of deaths caused by COVID-19.", 16, 80, 12.6),
    label("Our World", 687, 24, 12, "#ffffff", "center"),
    label("in Data", 687, 38, 12, "#ffffff", "center"),
    label("World", 612, 108, 13, "#555555"),
]
shapes += [
    rect(658, 15, 717, 50, fillcolor="#002147", line_width=0, layer="below"),
    rect(658, 46, 717, 50, fillcolor="#ce261e", line_width=0),
    rect(606, 97, 715, 118, fillcolor="#ffffff", line=dict(color="#cccccc", width=1)),
    seg(699, 105, 704, 111, "#c0c0c0", 1.5),
    seg(704, 111, 709, 105, "#c0c0c0", 1.5),
]

# legend
LEGEND_X = [241, 293, 345, 397, 449, 501, 553]
for i, color in enumerate(BIN_COLORS[:-1]):
    shapes.append(rect(LEGEND_X[i], 463, LEGEND_X[i + 1], 473, fillcolor=color, line=dict(color="#999999", width=0.5)))
shapes.append(dict(type="path", xref="paper", yref="paper", fillcolor=BIN_COLORS[-1], line_width=0,
                   path=f"M {px(501)} {py(463)} L {px(550)} {py(463)} L {px(553)} {py(468)} L {px(550)} {py(473)} L {px(501)} {py(473)} Z"))
shapes.append(seg(241, 462.5, 550, 462.5, "#d0d0d0", 1))
for x, text in zip(LEGEND_X, LEGEND_TICKS):
    annotations.append(label(text, x, 453, 11.5, "#5b5b5b", "center"))
annotations.append(label("No data", 202, 453, 11.5, "#5b5b5b", "center"))
fig.add_trace(go.Scatter(
    x=[(181 - X_ZERO) / SCALE, (223 - X_ZERO) / SCALE, (223 - X_ZERO) / SCALE, (181 - X_ZERO) / SCALE, (181 - X_ZERO) / SCALE],
    y=[(Y_ZERO - 463) / SCALE, (Y_ZERO - 463) / SCALE, (Y_ZERO - 473) / SCALE, (Y_ZERO - 473) / SCALE, (Y_ZERO - 463) / SCALE],
    mode="lines", fill="toself", fillpattern=HATCH, line=dict(color="#cccccc", width=1), showlegend=False, hoverinfo="skip"))

# footer
annotations += [
    label("Source: WHO COVID-19 Dashboard", 16, 500, 11.1, "#858585"),
    label("CC BY", 717, 500, 11.1, "#858585", "right"),
    label("Jan 5, 2020", 37, 527, 14, "#666666"),
    label("Jun 28, 2023", 717, 527, 14, "#666666", "right"),
]
shapes += [
    dict(type="path", xref="paper", yref="paper", fillcolor="#666666", line_width=0,
         path=f"M {px(17)} {py(521)} L {px(29)} {py(527)} L {px(17)} {py(533)} Z"),
    rect(125, 525, 619, 529, fillcolor="#a7b2bf", line_width=0),
    dict(type="circle", xref="paper", yref="paper", x0=px(611), x1=px(627), y0=py(519), y1=py(535),
         fillcolor="#ffffff", line=dict(color="#1d7fd0", width=1.5)),
    seg(0, 543.5, 125, 543.5, "#dddddd"),
    seg(236, 543.5, 730, 543.5, "#dddddd"),
    seg(0.5, 0, 0.5, 548, "#eeeeee"),
]
for x in [125, 236, 357, 496, 673]:
    shapes.append(seg(x, 543.5, x, 548, "#dddddd"))

fig.update_layout(
    width=W,
    height=H,
    margin=dict(t=0, r=0, b=0, l=0),
    paper_bgcolor="#ffffff",
    plot_bgcolor="#ffffff",
    shapes=shapes,
    annotations=annotations,
    xaxis=dict(range=[-X_ZERO / SCALE, (W - X_ZERO) / SCALE], visible=False, fixedrange=True),
    yaxis=dict(range=[(Y_ZERO - H) / SCALE, Y_ZERO / SCALE], visible=False, fixedrange=True),
)
# the page's default body margin would push the figure 8px in
fig.write_html("out.html", config=dict(displayModeBar=False), post_script="document.body.style.margin='0';")
